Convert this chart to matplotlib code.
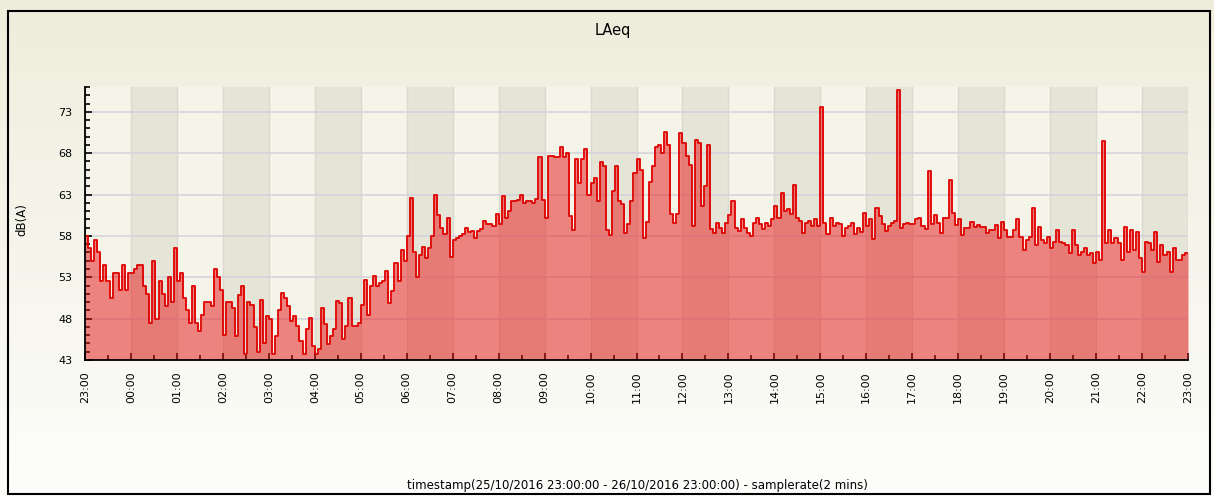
import numpy as np
import matplotlib
matplotlib.use('Agg')
import matplotlib.pyplot as plt
from matplotlib.patches import Rectangle

# LAeq readings, 4-minute steps, one row per hour starting at 23:00
h00 = [58, 56.5, 55, 57.5, 56, 52.5, 54.5, 52.5, 50.5, 53.5, 53.5, 51.5, 54.5, 51.5, 53.5]
h01 = [53.5, 54, 54.5, 54.5, 52, 51, 47.5, 55, 48, 52.5, 51, 49.5, 53, 50, 56.5]
h02 = [52.5, 53.5, 50.5, 49, 47.5, 52, 47.5, 46.5, 48.5, 50, 50, 49.5, 54, 53, 51.5]
h03 = [46, 50, 50, 49.3, 45.9, 50.9, 51.9, 43.7, 50, 49.7, 47, 44, 50.2, 45.1, 48.3]
h04 = [47.9, 43.7, 45.9, 49.1, 51.1, 50.5, 49.5, 47.7, 48.3, 47.1, 45.3, 43.7, 46.7, 48.1, 44.7]
h05 = [43.7, 44.3, 49.3, 47.3, 44.9, 45.9, 46.7, 50.1, 49.9, 45.5, 47.1, 50.5, 47.1, 47.1, 47.5]
h06 = [49.7, 52.7, 48.5, 51.9, 53.1, 52, 52.3, 52.5, 53.7, 49.9, 51.3, 54.7, 52.5, 56.3, 55]
h07 = [58, 62.6, 56, 53, 55.7, 56.7, 55.3, 56.5, 58, 63, 60.5, 59, 58.2, 60.2, 55.5]
h08 = [57.5, 57.8, 58, 58.2, 59, 58.5, 58.6, 57.8, 58.6, 58.8, 59.8, 59.4, 59.4, 59.2, 60.6]
h09 = [59.4, 62.8, 60.2, 61, 62.2, 62.2, 62.4, 63, 62, 62.2, 62.2, 62, 62.5, 67.5, 62.4]
h10 = [60.2, 67.7, 67.7, 67.5, 67.5, 68.7, 67.5, 68, 60.4, 58.7, 67.3, 64.4, 67.3, 68.5, 63]
h11 = [64.4, 65, 62.2, 66.9, 66.5, 58.7, 58.1, 63.4, 66.5, 62.2, 61.8, 58.3, 59.5, 62.2, 65.6]
h12 = [67.3, 66, 57.7, 59.7, 64.5, 66.5, 68.7, 69, 68, 70.6, 69, 60.6, 59.6, 60.6, 70.4]
h13 = [69.2, 67.6, 66.6, 59.2, 69.6, 69.2, 61.6, 64, 69, 58.8, 58.4, 59.6, 59, 58.4, 59.6]
h14 = [60.5, 62.2, 59, 58.6, 60, 59, 58.4, 58, 59.6, 60.2, 59.4, 58.8, 59.6, 59.2, 60]
h15 = [61.6, 60.2, 63.2, 61, 61.2, 60.6, 64.2, 60.2, 59.8, 58.4, 59.6, 59.8, 59.2, 60, 59.2]
h16 = [73.6, 59.6, 58.2, 60.2, 59.2, 59.6, 59.4, 58, 59, 59.2, 59.6, 58.2, 59, 58.5, 60.8]
h17 = [59.2, 60, 57.6, 61.4, 60.4, 59.4, 58.6, 59.2, 59.6, 59.8, 75.6, 59, 59.4, 59.6, 59.4]
h18 = [59.4, 60, 60.2, 59.2, 58.8, 65.8, 59.4, 60.5, 59.6, 58.4, 60.2, 60.2, 64.8, 60.8, 59.3]
h19 = [60, 58.1, 58.9, 58.9, 59.7, 59.1, 59.3, 59.1, 59.1, 58.3, 58.7, 58.7, 59.3, 57.7, 59.7]
h20 = [58.7, 57.9, 57.9, 58.7, 60, 57.9, 56.3, 57.5, 57.9, 61.4, 56.9, 59.1, 57.5, 57.1, 57.9]
h21 = [56.5, 57.3, 58.7, 57.3, 57.1, 56.9, 55.9, 58.7, 56.9, 55.7, 56.1, 56.5, 55.7, 55.9, 54.7]
h22 = [56.1, 55.1, 69.5, 57.1, 58.7, 57.1, 57.7, 57.1, 55.1, 59.1, 56.1, 58.7, 56.3, 58.5, 55.3]
h23 = [53.6, 57.3, 57.1, 56.3, 58.5, 54.9, 56.9, 55.7, 56.1, 53.6, 56.5, 55.1, 55.1, 55.7, 55.9]

hour_labels = ['23:00', '00:00', '01:00', '02:00', '03:00', '04:00', '05:00', '06:00',
               '07:00', '08:00', '09:00', '10:00', '11:00', '12:00', '13:00', '14:00',
               '15:00', '16:00', '17:00', '18:00', '19:00', '20:00', '21:00', '22:00', '23:00']

laeq = (h00 + h01 + h02 + h03 + h04 + h05 + h06 + h07 + h08 + h09 + h10 + h11 +
        h12 + h13 + h14 + h15 + h16 + h17 + h18 + h19 + h20 + h21 + h22 + h23)
laeq = np.array(laeq + [laeq[-1]])
t = np.arange(len(laeq)) * 4 / 60.0   # hours since 23:00

W, H = 1214, 496
fig = plt.figure(figsize=(W / 100, H / 100), dpi=100)

# background gradient of the panel
bg = fig.add_axes([0, 0, 1, 1], zorder=-10)
top_c = np.array([238, 237, 220]) / 255.0
bot_c = np.array([253, 253, 251]) / 255.0
g = np.linspace(0, 1, 256)[:, None, None]
bg.imshow(top_c * (1 - g) + bot_c * g, aspect='auto', extent=[0, 1, 0, 1])
bg.axis('off')

fig.add_artist(Rectangle((8 / W, 2 / H), (1210 - 8) / W, (485 - 2) / H,
                         transform=fig.transFigure, fill=False, ec='black', lw=1.5))

ax = fig.add_axes([85 / W, 1 - 360 / H, (1188 - 85) / W, (360 - 87) / H])
ax.set_facecolor('#F4F4E9')

# alternate hour shading
for h in range(1, 24, 2):
    ax.axvspan(h, h + 1, color='#E4E4D7', zorder=0, lw=0)
for h in range(25):
    ax.axvline(h, color='#DAD9D0', lw=1.0, zorder=0.5)
for yv in range(43, 76, 5):
    ax.axhline(yv, color='#D4D1DB', lw=1.1, zorder=0.5)

ax.fill_between(t, laeq, 43, step='post', color='#E81414', alpha=0.5, lw=0, zorder=2)
ax.step(t, laeq, where='post', color='#E00000', lw=1.3, zorder=3)

ax.set_xlim(0, 24)
ax.set_ylim(43, 76)
ax.set_xticks(np.arange(25))
ax.set_xticklabels(hour_labels, rotation=90, fontsize=8)
ax.set_xticks(np.arange(0.5, 24, 1), minor=True)
ax.set_yticks(np.arange(43, 76, 5))
ax.set_yticks(np.arange(43, 77, 1), minor=True)
ax.tick_params(axis='y', labelsize=8)
ax.tick_params(which='major', direction='in', length=5, width=1.2, color='black')
ax.tick_params(which='minor', direction='in', length=3.5, width=1.2, color='black')
ax.tick_params(axis='x', which='major', pad=8)
ax.tick_params(axis='y', which='major', pad=9)

for s in ['top', 'right']:
    ax.spines[s].set_visible(False)
for s in ['left', 'bottom']:
    ax.spines[s].set_linewidth(1.3)
    ax.spines[s].set_zorder(5)

fig.text(613 / W, 1 - 30 / H, 'LAeq', ha='center', va='center', fontsize=10.5)
fig.text(22 / W, 1 - 220 / H, 'dB(A)', ha='center', va='center', rotation=90, fontsize=8.5)
fig.text(637 / W, 1 - 485 / H,
         'timestamp(25/10/2016 23:00:00 - 26/10/2016 23:00:00) - samplerate(2 mins)',
         ha='center', va='center', fontsize=8.5)

fig.savefig('out.png', dpi=100)
